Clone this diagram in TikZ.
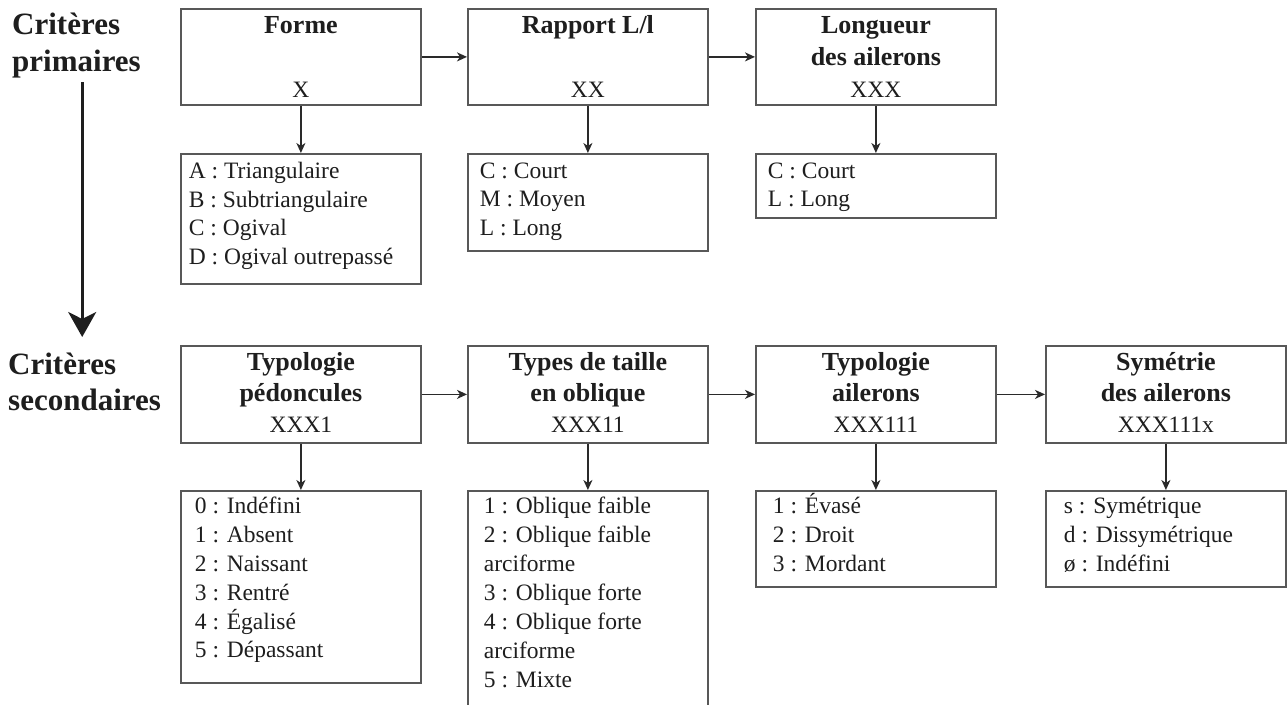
\documentclass[tikz,border=0pt]{standalone}
\usepackage{fontspec}
\setmainfont{Liberation Serif}
\usetikzlibrary{arrows.meta}
\definecolor{ink}{HTML}{1E1E1E}
\definecolor{frame}{HTML}{585858}
\definecolor{arrink}{HTML}{2A2A2A}
% header box: height, baselineskip, title lines, code
\newcommand{\HeadBox}[4]{\parbox[c][#1][t]{240pt}{\centering\fontsize{26}{#2}\selectfont\bfseries\rule{0pt}{25pt}#3\\{\mdseries\fontsize{23.5}{#2}\selectfont #4}}}
% list box: height, left pad, baselineskip, first strut, content
\newcommand{\ListBox}[5]{\parbox[c][#1][t]{240pt}{\raggedright\leftskip=#2\relax\fontsize{23.5}{#3}\selectfont\rule{0pt}{#4}#5}}
\tikzset{
  box/.style={draw=frame, line width=1.8pt, inner sep=0pt, anchor=north west, text=ink},
  arr/.style={draw=arrink, line width=1.5pt, -{Stealth[length=10pt,width=9pt,inset=3pt]}},
  bigarr/.style={draw=ink, line width=2.7pt, -{Stealth[length=25pt,width=28pt,inset=7pt]}},
  title/.style={inner sep=0pt, anchor=north west, text=ink}
}
\begin{document}
\begin{tikzpicture}[x=1pt,y=-1pt]
\useasboundingbox (0,0) rectangle (1287,704);
\clip (0,0) rectangle (1287,704);
\fill[white] (0,0) rectangle (1287,704);

% titles
\node[title] (prim) at (12,0) {\parbox[c][82pt][t]{140pt}{\fontsize{31}{37}\selectfont\bfseries\rule{0pt}{34pt}Critères\\primaires}};
\node[title] (sec) at (8,340) {\parbox[c][80pt][t]{160pt}{\fontsize{31}{36}\selectfont\bfseries\rule{0pt}{34pt}Critères\\secondaires}};

% primary headers
\node[box] (F) at (180,8) {\HeadBox{96pt}{32pt}{Forme\\\mbox{}}{X}};
\node[box] (R) at (467,8) {\HeadBox{96pt}{32pt}{Rapport L/l\\\mbox{}}{XX}};
\node[box] (L) at (755,8) {\HeadBox{96pt}{32pt}{Longueur\\des ailerons}{XXX}};

% primary lists
\node[box] (LF) at (180,153) {\ListBox{130pt}{8pt}{28.5pt}{25pt}{A : Triangulaire\\B : Subtriangulaire\\C : Ogival\\D : Ogival outrepassé}};
\node[box] (LR) at (467,153) {\ListBox{97pt}{12pt}{28.5pt}{24.5pt}{C : Court\\M : Moyen\\L : Long}};
\node[box] (LL) at (755,153) {\ListBox{64pt}{12pt}{28.5pt}{24.5pt}{C : Court\\L : Long}};

% secondary headers
\node[box] (P) at (180,345) {\HeadBox{97pt}{31pt}{Typologie\\pédoncules}{XXX1}};
\node[box] (T) at (467,345) {\HeadBox{97pt}{31pt}{Types de taille\\en oblique}{XXX11}};
\node[box] (A) at (755,345) {\HeadBox{97pt}{31pt}{Typologie\\ailerons}{XXX111}};
\node[box] (S) at (1045,345) {\HeadBox{97pt}{31pt}{Symétrie\\des ailerons}{XXX111x}};

% secondary lists
\node[box] (LP) at (180,490) {\ListBox{192pt}{14pt}{28.8pt}{23pt}{0 : Indéfini\\1 : Absent\\2 : Naissant\\3 : Rentré\\4 : Égalisé\\5 : Dépassant}};
\node[box] (LT) at (467,490) {\ListBox{230pt}{16pt}{29pt}{23pt}{1 : Oblique faible\\2 : Oblique faible\\arciforme\\3 : Oblique forte\\4 : Oblique forte\\arciforme\\5 : Mixte}};
\node[box] (LA) at (755,490) {\ListBox{96pt}{17pt}{29pt}{23pt}{1 : Évasé\\2 : Droit\\3 : Mordant}};
\node[box] (LS) at (1045,490) {\ListBox{96pt}{18pt}{29pt}{23pt}{s : Symétrique\\d : Dissymétrique\\ø : Indéfini}};

% horizontal connectors
\draw[arr] (F.east) -- (R.west);
\draw[arr] (R.east) -- (L.west);
\draw[arr] (P.east) -- (T.west);
\draw[arr] (T.east) -- (A.west);
\draw[arr] (A.east) -- (S.west);

% vertical connectors
\draw[arr] (F.south) -- (LF.north);
\draw[arr] (R.south) -- (LR.north);
\draw[arr] (L.south) -- (LL.north);
\draw[arr] (P.south) -- (LP.north);
\draw[arr] (T.south) -- (LT.north);
\draw[arr] (A.south) -- (LA.north);
\draw[arr] (S.south) -- (LS.north);

% big arrow
\draw[bigarr, shorten >=3pt] (prim.south) -- (prim.south |- sec.north);
\end{tikzpicture}
\end{document}
